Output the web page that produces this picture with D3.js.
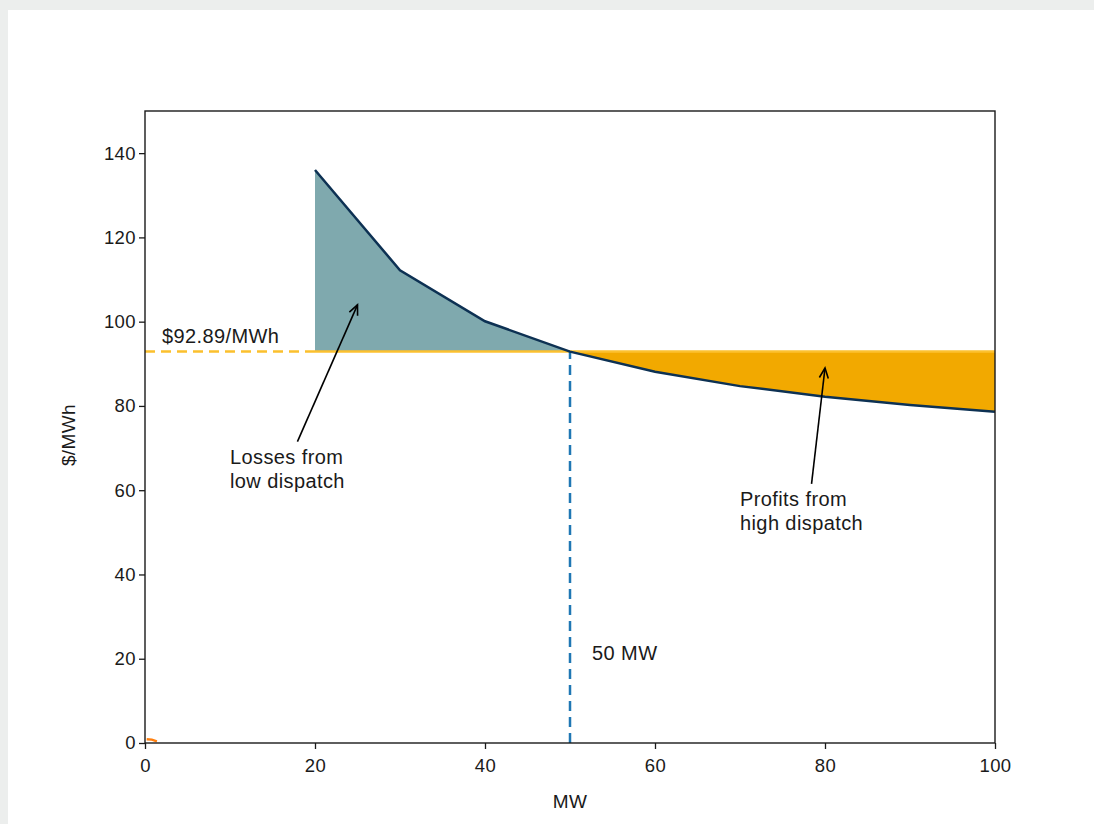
<!DOCTYPE html>
<html>
<head>
<meta charset="utf-8">
<script src="https://cdn.jsdelivr.net/npm/d3@7"></script>
<style>
  body { margin: 0; background: #eceeed; }
  svg text { font-family: "Liberation Sans", Arial, sans-serif; fill: #1a1a1a; letter-spacing: 0.4px; }
</style>
</head>
<body>
<div class="svg-container"></div>
<script>

// average cost curve
var mw = [20, 30, 40, 50, 60, 70, 80, 90, 100];
var avgCost = [136, 112.2, 100.1, 92.89, 88.1, 84.7, 82.2, 80.2, 78.6];

// market price and dispatch level
var price = 92.89;
var dispatch = 50;

// tick labels
var xTicks = [0, 20, 40, 60, 80, 100];
var yTicks = [0, 20, 40, 60, 80, 100, 120, 140];

// annotations: text lines, text anchor point and arrow target (data coords)
var notes = [
  {lines: ["Losses from", "low dispatch"], tx: 10, ty: 66.3, ax: 25, ay: 104},
  {lines: ["Profits from", "high dispatch"], tx: 70, ty: 56.3, ax: 80, ay: 89}
];

// small stray mark at origin
var strayX = [0.2, 0.8, 1.4];
var strayY = [0.9, 0.8, 0.4];

var W = 1094, H = 824;
var margin = {top: 111, right: 99, bottom: 81, left: 145},
    width = 995 - margin.left,
    height = 743 - margin.top;

var fs = "20px";

var svg = d3.select(".svg-container").append("svg")
  .attr("width", W)
  .attr("height", H);

// figure background
svg.append("rect")
  .attr("x", 8).attr("y", 10)
  .attr("width", W).attr("height", H)
  .attr("fill", "#ffffff");

var g = svg.append("g")
  .attr("transform", "translate(" + margin.left + "," + margin.top + ")");

var x = d3.scaleLinear().domain([0, 100]).range([0, width]);
var y = d3.scaleLinear().domain([0, 150]).range([height, 0]);

var pts = mw.map(function(d, i) { return {mw: d, cost: avgCost[i]}; });

var area = d3.area()
  .x(function(d) { return x(d.mw); })
  .y0(y(price))
  .y1(function(d) { return y(d.cost); });

// losses fill (below dispatch)
g.append("path")
  .datum(pts.filter(function(d) { return d.mw <= dispatch; }))
  .attr("d", area)
  .attr("fill", "#7fa9ae");

// profits fill (above dispatch)
g.append("path")
  .datum(pts.filter(function(d) { return d.mw >= dispatch; }))
  .attr("d", area)
  .attr("fill", "#f2a900");

// price line: dashed left of the curve, solid under the fills
g.append("line")
  .attr("x1", x(0)).attr("x2", x(mw[0]))
  .attr("y1", y(price)).attr("y2", y(price))
  .attr("stroke", "#fbc02d")
  .attr("stroke-width", 2.5)
  .attr("stroke-dasharray", "10,6");

g.append("line")
  .attr("x1", x(mw[0])).attr("x2", x(100))
  .attr("y1", y(price)).attr("y2", y(price))
  .attr("stroke", "#fcc12f")
  .attr("stroke-width", 2.5);

// dispatch line
g.append("line")
  .attr("x1", x(dispatch)).attr("x2", x(dispatch))
  .attr("y1", y(0)).attr("y2", y(price))
  .attr("stroke", "#1f77b4")
  .attr("stroke-width", 2.5)
  .attr("stroke-dasharray", "10,6");

// average cost curve
g.append("path")
  .datum(pts)
  .attr("d", d3.line()
    .x(function(d) { return x(d.mw); })
    .y(function(d) { return y(d.cost); }))
  .attr("fill", "none")
  .attr("stroke", "#0d3153")
  .attr("stroke-width", 2.5);

// stray orange mark
g.append("path")
  .datum(strayX.map(function(d, i) { return [d, strayY[i]]; }))
  .attr("d", d3.line()
    .x(function(d) { return x(d[0]); })
    .y(function(d) { return y(d[1]); }))
  .attr("fill", "none")
  .attr("stroke", "#ff7f0e")
  .attr("stroke-width", 2.5);

// axes
var xAxis = g.append("g")
  .attr("transform", "translate(0," + height + ")")
  .call(d3.axisBottom(x).tickValues(xTicks).tickSize(6).tickPadding(10));

var yAxis = g.append("g")
  .call(d3.axisLeft(y).tickValues(yTicks).tickSize(6).tickPadding(3));

[xAxis, yAxis].forEach(function(a) {
  a.select(".domain").remove();
  a.selectAll(".tick line").attr("stroke", "#1a1a1a").attr("stroke-width", 1.3);
  a.selectAll(".tick text")
    .style("font-family", "'Liberation Sans', Arial, sans-serif")
    .style("font-size", "18.5px")
    .attr("fill", "#1a1a1a");
});

// frame
g.append("rect")
  .attr("width", width).attr("height", height)
  .attr("fill", "none")
  .attr("stroke", "#1a1a1a")
  .attr("stroke-width", 1.4);

// axis labels
g.append("text")
  .attr("x", width / 2)
  .attr("y", height + 65)
  .attr("text-anchor", "middle")
  .style("font-size", "19px")
  .text("MW");

g.append("text")
  .attr("transform", "rotate(-90)")
  .attr("x", -height / 2 - 8)
  .attr("y", -70)
  .attr("text-anchor", "middle")
  .style("font-size", "19px")
  .text("$/MWh");

// price and dispatch labels
g.append("text")
  .attr("x", x(2))
  .attr("y", y(price) - 9)
  .style("font-size", fs)
  .text("$" + price + "/MWh");

g.append("text")
  .attr("x", x(dispatch + 2.6))
  .attr("y", y(20) + 1)
  .style("font-size", fs)
  .text(dispatch + " MW");

// annotations with arrows
notes.forEach(function(n) {
  var t = g.append("text")
    .attr("x", x(n.tx))
    .attr("y", y(n.ty))
    .style("font-size", fs);
  n.lines.forEach(function(l, i) {
    t.append("tspan")
      .attr("x", x(n.tx))
      .attr("dy", i === 0 ? 0 : "1.2em")
      .text(l);
  });

  // arrow tail sits just above the text block
  var bb = t.node().getBBox();
  var x0 = bb.x + bb.width / 2 + 10, y0 = bb.y - 4;
  var x1 = x(n.ax), y1 = y(n.ay);
  g.append("line")
    .attr("x1", x0).attr("y1", y0)
    .attr("x2", x1).attr("y2", y1)
    .attr("stroke", "#000")
    .attr("stroke-width", 1.6);

  var ang = Math.atan2(y1 - y0, x1 - x0);
  var len = 11, spread = 0.42;
  g.append("path")
    .attr("d", "M" + (x1 - len * Math.cos(ang - spread)) + "," + (y1 - len * Math.sin(ang - spread)) +
      "L" + x1 + "," + y1 +
      "L" + (x1 - len * Math.cos(ang + spread)) + "," + (y1 - len * Math.sin(ang + spread)))
    .attr("fill", "none")
    .attr("stroke", "#000")
    .attr("stroke-width", 1.6);
});

</script>
</body>
</html>
